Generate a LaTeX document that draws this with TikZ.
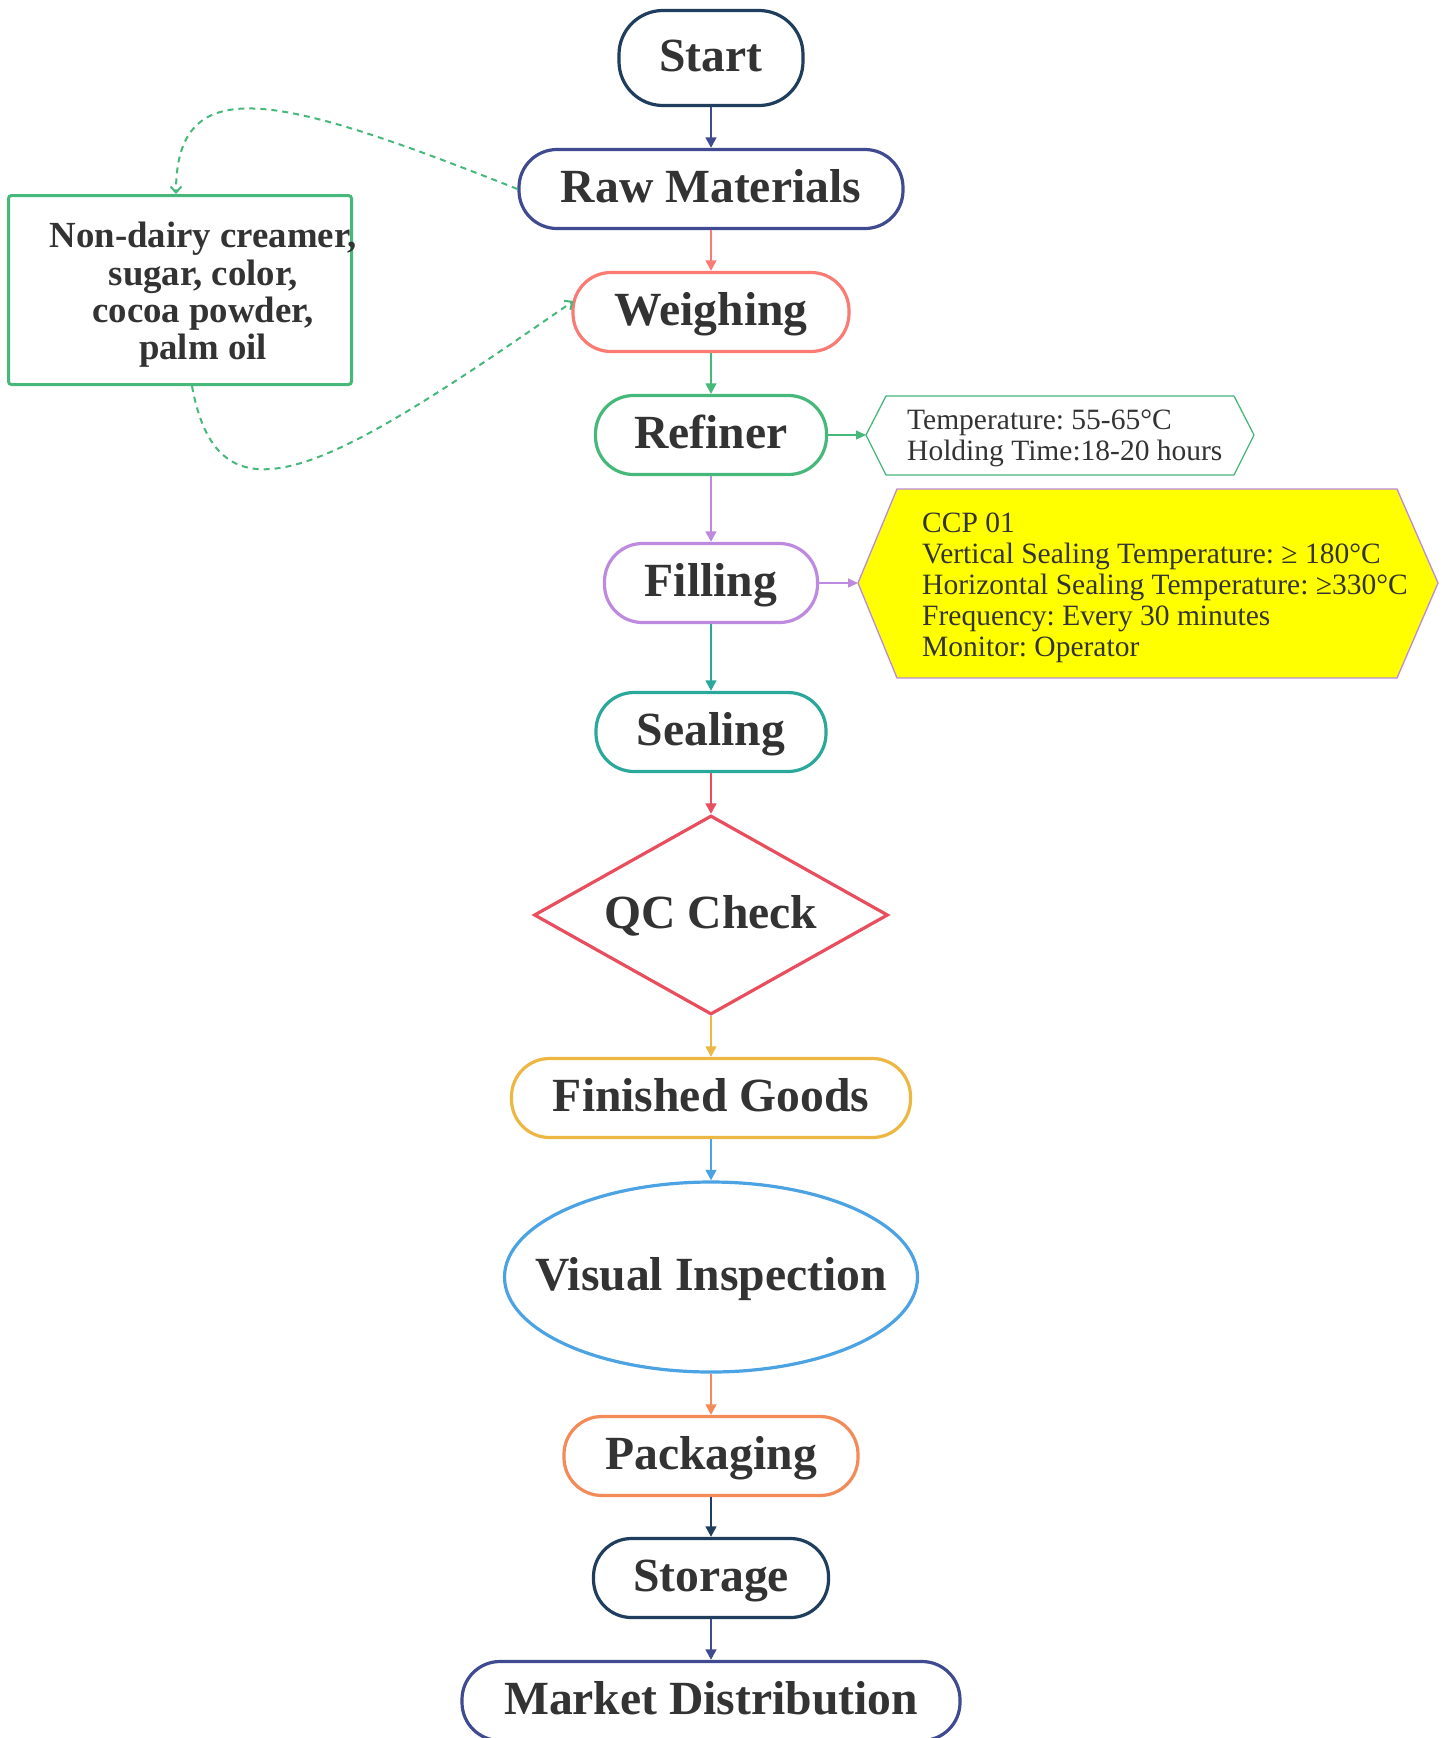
\documentclass[tikz,border=0pt]{standalone}
\usepackage{fontspec}
\setmainfont{Liberation Serif}
\usetikzlibrary{shapes.geometric,arrows.meta}
\definecolor{cnavy}{HTML}{1F3D5C}
\definecolor{cindigo}{HTML}{3F4A91}
\definecolor{csalmon}{HTML}{FA7B73}
\definecolor{cgreen}{HTML}{45B87A}
\definecolor{clav}{HTML}{BE8AE0}
\definecolor{cteal}{HTML}{2AA89C}
\definecolor{cred}{HTML}{E84E5E}
\definecolor{cyel}{HTML}{ECB743}
\definecolor{cblue}{HTML}{4BA3E3}
\definecolor{corange}{HTML}{F38A58}
\definecolor{ctext}{HTML}{333333}
\definecolor{cccp}{HTML}{FFFF00}
\frenchspacing
\begin{document}
\begin{tikzpicture}[x=1pt,y=-1pt,
  mainfont/.style={text=ctext, font=\fontsize{47.6}{50}\selectfont\bfseries, text height=36pt, text depth=10pt},
  proc/.style={draw=#1, line width=3.2pt, rounded corners=38pt, fill=white,
    minimum height=79pt, inner sep=0pt, mainfont},
  flow/.style={draw=#1, line width=2.7pt, -{Triangle[length=10.5pt,width=10.5pt]}},
  side/.style={draw=#1, line width=1.4pt, -{Triangle[length=10pt,width=9pt]}},
  dashline/.style={draw=cgreen, line width=2pt, dash pattern=on 6pt off 5pt,
    -{Straight Barb[length=6pt,width=11pt]}},
  infotext/.style={text=ctext, font=\fontsize{29.5}{31}\selectfont, align=left, inner sep=0pt, anchor=west},
]
\useasboundingbox (0,0) rectangle (1445,1738);
\fill[white] (0,0) rectangle (1445,1738);

% main chain
\node[proc=cnavy, minimum width=184pt, minimum height=95pt, rounded corners=44pt] (start) at (711,58) {Start};
\node[proc=cindigo, minimum width=384pt] (raw) at (711,189) {Raw Materials};
\node[proc=csalmon, minimum width=276pt] (weigh) at (711,312) {Weighing};
\node[proc=cgreen, minimum width=231pt] (refiner) at (711,435) {Refiner};
\node[proc=clav, minimum width=213pt] (filling) at (711,583) {Filling};
\node[proc=cteal, minimum width=230pt] (sealing) at (711,732) {Sealing};
\node[diamond, draw=cred, line width=3.2pt, fill=white, aspect=1.78, minimum width=354pt, minimum height=199pt, inner sep=0pt, mainfont] (qc) at (711,915) {QC Check};
\node[proc=cyel, minimum width=399pt] (fg) at (711,1098) {Finished Goods};
\node[ellipse, draw=cblue, line width=3.2pt, fill=white, minimum width=413pt, minimum height=190pt, inner sep=0pt, mainfont] (vis) at (711,1277) {\makebox[0pt][c]{Visual Inspection}};
\node[proc=corange, minimum width=294pt] (pack) at (711,1456) {Packaging};
\node[proc=cnavy, minimum width=235pt] (storage) at (711,1578) {Storage};
\node[proc=cindigo, minimum width=498pt] (market) at (711,1701) {Market Distribution};

\draw[flow=cindigo] (start) -- (raw);
\draw[flow=csalmon] (raw) -- (weigh);
\draw[flow=cgreen] (weigh) -- (refiner);
\draw[flow=clav] (refiner) -- (filling);
\draw[flow=cteal] (filling) -- (sealing);
\draw[flow=cred] (sealing) -- (qc);
\draw[flow=cyel] (qc) -- (fg);
\draw[flow=cblue] (fg) -- (vis);
\draw[flow=corange] (vis) -- (pack);
\draw[flow=cnavy] (pack) -- (storage);
\draw[flow=cindigo] (storage) -- (market);

% ingredients box
\node[draw=cgreen, line width=3pt, rounded corners=3pt, minimum width=343pt, minimum height=189pt, inner sep=0pt] (nd) at (180,290) {};
\node[text=ctext, font=\fontsize{36.8}{37.3}\selectfont\bfseries, align=center, inner sep=0pt] (ndtext) at (203,295)
  {Non-dairy creamer,\\sugar, color,\\cocoa powder,\\palm oil};

\draw[dashline] (raw.west) .. controls (280,95) and (176,68) .. ([xshift=-4pt]nd.north);
\draw[dashline] ([xshift=12pt]nd.south) .. controls (219,535) and (330,470) .. ([xshift=2pt,yshift=11pt]weigh.west);

% refiner info
\draw[draw=cgreen, line width=1.3pt, fill=white]
  (866,435) coordinate (tempL) -- (886,396) -- (1234,396) -- (1254,435) -- (1234,475) -- (886,475) -- cycle;
\node[infotext] (temp) at (907,438) {Temperature: 55-65°C\\Holding Time:18-20 hours};
\draw[side=cgreen] (refiner.east) -- (tempL);

% CCP info
\draw[draw=clav, line width=1.3pt, fill=cccp]
  (858,583) coordinate (ccpL) -- (897,489) -- (1397,489) -- (1438,583) -- (1397,678) -- (897,678) -- cycle;
\node[infotext] (ccp) at (922,588) {CCP 01\\Vertical Sealing Temperature: ≥ 180°C\\Horizontal Sealing Temperature: ≥330°C\\Frequency: Every 30 minutes\\Monitor: Operator};
\draw[side=clav] (filling.east) -- (ccpL);
\end{tikzpicture}
\end{document}
